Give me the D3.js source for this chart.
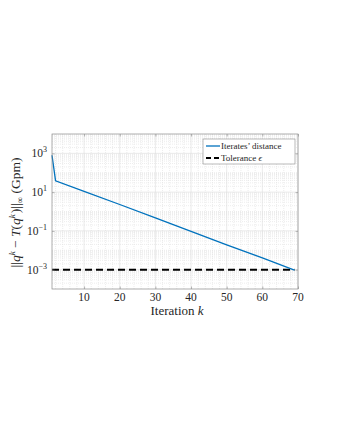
<!DOCTYPE html>
<html>
<head>
<meta charset="utf-8">
<script src="https://cdn.jsdelivr.net/npm/d3@7"></script>
<style>
  body { margin: 0; background: #fff; }
  text { font-family: "Liberation Serif", "DejaVu Serif", serif; fill: #262626; }
</style>
</head>
<body>
<div id="chart"></div>
<script>
// Data
var iterK = [1, 2, 10, 20, 30, 40, 50, 60, 69];
var distance = [800, 38, 11, 2.3, 0.47, 0.095, 0.019, 0.004, 0.00095];
var tolerance = 0.001;
var tolK = [1, 69];
var xTicks = [10, 20, 30, 40, 50, 60, 70];
var yTickExp = [-3, -1, 1, 3];
var legendLabels = ["Iterates\u2019 distance", "Tolerance \u03f5"];

function init() {
    var w = 340, h = 440;
    var margin = { top: 134, right: 42, bottom: 151, left: 52 };
    var width = w - margin.left - margin.right;
    var height = h - margin.top - margin.bottom;

    var svg = d3.select("#chart").append("svg")
        .attr("width", w)
        .attr("height", h);

    var g = svg.append("g")
        .attr("transform", "translate(" + margin.left + "," + margin.top + ")");

    var x = d3.scaleLinear().domain([1, 70]).range([0, width]);
    var y = d3.scaleLog().domain([1e-4, 1e4]).range([height, 0]);

    // minor grid
    var minorX = d3.range(2, 70, 2).filter(function (d) { return d % 10 !== 0; });
    var minorY = [];
    for (var e = -4; e < 4; e++) {
        for (var m = 1; m < 10; m++) {
            var v = m * Math.pow(10, e);
            if (!(m === 1 && yTickExp.indexOf(e) >= 0) && v > 1e-4) minorY.push(v);
        }
    }
    var grid = g.append("g").attr("class", "grid");
    grid.selectAll(".mx").data(minorX).enter().append("line")
        .attr("x1", function (d) { return x(d); }).attr("x2", function (d) { return x(d); })
        .attr("y1", 0).attr("y2", height)
        .attr("stroke", "#e0e0e0").attr("stroke-width", 0.6).attr("stroke-dasharray", "1,1");
    grid.selectAll(".my").data(minorY).enter().append("line")
        .attr("x1", 0).attr("x2", width)
        .attr("y1", function (d) { return y(d); }).attr("y2", function (d) { return y(d); })
        .attr("stroke", "#e0e0e0").attr("stroke-width", 0.6).attr("stroke-dasharray", "1,1");
    // major grid
    grid.selectAll(".gx").data(xTicks).enter().append("line")
        .attr("x1", function (d) { return x(d); }).attr("x2", function (d) { return x(d); })
        .attr("y1", 0).attr("y2", height)
        .attr("stroke", "#dcdcdc").attr("stroke-width", 0.6);
    grid.selectAll(".gy").data(yTickExp).enter().append("line")
        .attr("x1", 0).attr("x2", width)
        .attr("y1", function (d) { return y(Math.pow(10, d)); }).attr("y2", function (d) { return y(Math.pow(10, d)); })
        .attr("stroke", "#dcdcdc").attr("stroke-width", 0.6);

    // tolerance line
    g.append("path")
        .datum(tolK)
        .attr("fill", "none")
        .attr("stroke", "#000")
        .attr("stroke-width", 2)
        .attr("stroke-dasharray", "7,4")
        .attr("d", d3.line().x(function (d) { return x(d); }).y(function () { return y(tolerance); }));

    // distance line
    g.append("path")
        .datum(iterK)
        .attr("fill", "none")
        .attr("stroke", "#0072BD")
        .attr("stroke-width", 1.3)
        .attr("d", d3.line()
            .x(function (d) { return x(d); })
            .y(function (d, i) { return y(distance[i]); }));

    // axes with inward ticks on all sides
    var tickLen = 2.5;
    var axisColor = "#8a8a8a";
    function styleAxis(sel) {
        sel.select(".domain").remove();
        sel.selectAll(".tick line").attr("stroke", axisColor).attr("stroke-width", 0.6);
    }
    var yVals = yTickExp.map(function (d) { return Math.pow(10, d); });
    g.append("g").call(d3.axisBottom(x).tickValues(xTicks).tickSize(-tickLen).tickFormat("")).attr("transform", "translate(0," + height + ")").call(styleAxis);
    g.append("g").call(d3.axisTop(x).tickValues(xTicks).tickSize(-tickLen).tickFormat("")).call(styleAxis);
    g.append("g").call(d3.axisLeft(y).tickValues(yVals).tickSize(-tickLen).tickFormat("")).call(styleAxis);
    g.append("g").call(d3.axisRight(y).tickValues(yVals).tickSize(-tickLen).tickFormat("")).attr("transform", "translate(" + width + ",0)").call(styleAxis);

    g.append("rect")
        .attr("x", 0).attr("y", 0).attr("width", width).attr("height", height)
        .attr("fill", "none").attr("stroke", axisColor).attr("stroke-width", 0.7);

    // x tick labels
    g.selectAll(".xl").data(xTicks).enter().append("text")
        .attr("x", function (d) { return x(d); })
        .attr("y", height + 12)
        .attr("text-anchor", "middle")
        .attr("font-size", "11.5px")
        .text(function (d) { return d; });

    // y tick labels 10^e
    var yl = g.selectAll(".yl").data(yTickExp).enter().append("text")
        .attr("x", -5)
        .attr("y", function (d) { return y(Math.pow(10, d)) + 4; })
        .attr("text-anchor", "end")
        .attr("font-size", "11.5px");
    yl.append("tspan").text("10");
    yl.append("tspan").attr("dy", -5).attr("font-size", "8px")
        .text(function (d) { return d < 0 ? "\u2212" + (-d) : d; });

    // x label
    var xlab = g.append("text")
        .attr("x", width / 2 + 2)
        .attr("y", height + 26)
        .attr("text-anchor", "middle")
        .attr("font-size", "13px");
    xlab.append("tspan").text("Iteration ");
    xlab.append("tspan").attr("font-style", "italic").text("k");

    // y label
    var ylab = svg.append("text")
        .attr("transform", "translate(20," + (margin.top + height / 2 + 1) + ") rotate(-90)")
        .attr("text-anchor", "middle")
        .attr("font-size", "13.5px");
    ylab.append("tspan").text("||");
    ylab.append("tspan").attr("font-style", "italic").text("q");
    ylab.append("tspan").attr("font-style", "italic").attr("font-size", "9px").attr("dy", -5).text("k");
    ylab.append("tspan").attr("dy", 5).text(" \u2212 ");
    ylab.append("tspan").attr("font-style", "italic").text("T");
    ylab.append("tspan").text("(");
    ylab.append("tspan").attr("font-style", "italic").text("q");
    ylab.append("tspan").attr("font-style", "italic").attr("font-size", "9px").attr("dy", -5).text("k");
    ylab.append("tspan").attr("dy", 5).attr("dx", 1).text(")||");
    ylab.append("tspan").attr("font-size", "9px").attr("dy", 3).text("\u221e");
    ylab.append("tspan").attr("dy", -3).text(" (Gpm)");

    // legend
    var lg = g.append("g").attr("transform", "translate(" + (width - 95) + ",5)");
    lg.append("rect")
        .attr("width", 92).attr("height", 25)
        .attr("fill", "#fff").attr("stroke", axisColor).attr("stroke-width", 0.6);
    var colors = ["#0072BD", "#000"];
    var dashes = [null, "5,3"];
    var widths = [1.3, 2];
    legendLabels.forEach(function (lab, i) {
        var ly = 7 + i * 12;
        lg.append("line")
            .attr("x1", 3).attr("x2", 17).attr("y1", ly).attr("y2", ly)
            .attr("stroke", colors[i]).attr("stroke-width", widths[i])
            .attr("stroke-dasharray", dashes[i]);
        var t = lg.append("text").attr("x", 18).attr("y", ly + 3).attr("font-size", "9px");
        if (i === 0) t.text(lab);
        else {
            t.append("tspan").text("Tolerance ");
            t.append("tspan").attr("font-style", "italic").text("\u03f5");
        }
    });
}
window.onload = init;
</script>
</body>
</html>
